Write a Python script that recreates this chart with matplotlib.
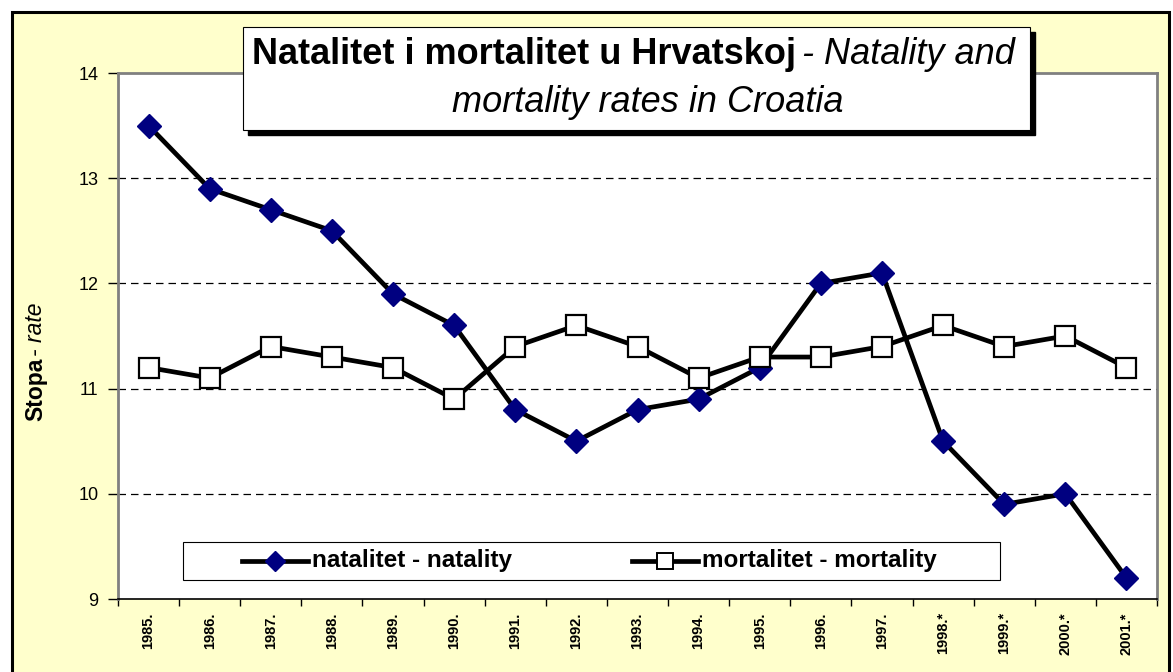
import matplotlib
matplotlib.use("Agg")
import matplotlib.pyplot as plt
from matplotlib.patches import Rectangle
from matplotlib.lines import Line2D

years = ["1985.", "1986.", "1987.", "1988.", "1989.", "1990.", "1991.", "1992.", "1993.",
         "1994.", "1995.", "1996.", "1997.", "1998.*", "1999.*", "2000.*", "2001.*"]
natality = [13.5, 12.9, 12.7, 12.5, 11.9, 11.6, 10.8, 10.5, 10.8, 10.9, 11.2, 12.0, 12.1,
            10.5, 9.9, 10.0, 9.2]
mortality = [11.2, 11.1, 11.4, 11.3, 11.2, 10.9, 11.4, 11.6, 11.4, 11.1, 11.3, 11.3, 11.4,
             11.6, 11.4, 11.5, 11.2]
yticks = [9, 10, 11, 12, 13, 14]

plt.rcParams['font.family'] = ['Liberation Sans', 'DejaVu Sans']

W, H = 1173, 672
fig = plt.figure(figsize=(W / 100, H / 100), dpi=100)
fig.patch.set_facecolor('white')

# outer yellow frame with black border
fig.patches.append(Rectangle((12 / W, -0.01), (1169 - 12) / W, (672 - 12) / H + 0.01,
                             transform=fig.transFigure, facecolor='#FFFFCC',
                             edgecolor='black', linewidth=2.2, zorder=-5))

ax = fig.add_axes([118 / W, (H - 599) / H, (1157 - 118) / W, (599 - 73) / H], zorder=1)
ax.set_facecolor('white')
x = list(range(len(years)))
ax.set_xlim(-0.5, len(years) - 0.5)
ax.set_ylim(9, 14)

for yv in yticks[1:-1]:
    ax.axhline(yv, color='black', linestyle=(0, (6, 4)), linewidth=0.9, zorder=1)

ax.plot(x, natality, color='black', linewidth=3.4, marker='D', markersize=12.5,
        markerfacecolor='#000080', markeredgecolor='#000080', zorder=3, clip_on=False)
ax.plot(x, mortality, color='black', linewidth=3.4, marker='s', markersize=14.5,
        markerfacecolor='white', markeredgecolor='black', markeredgewidth=1.6, zorder=4)

for s in ['top', 'right', 'left']:
    ax.spines[s].set_color('#808080')
    ax.spines[s].set_linewidth(2)
ax.spines['bottom'].set_color('black')
ax.spines['bottom'].set_linewidth(1.2)

ax.set_yticks(yticks)
ax.set_yticklabels([str(v) for v in yticks], fontsize=13)
ax.tick_params(axis='y', length=7, width=1, direction='out', color='black', pad=7)
ax.set_xticks([i - 0.5 for i in range(len(years) + 1)], minor=False)
ax.set_xticklabels([])
ax.tick_params(axis='x', which='major', length=5, width=1, direction='out')
ax.set_xticks(x, minor=True)
ax.set_xticklabels(years, minor=True, rotation=90, fontsize=10.5, fontweight='bold')
ax.tick_params(axis='x', which='minor', length=0, pad=9.5)

# y label: bold "Stopa" + italic "rate"
yl1 = fig.text(36 / W, (H - 421) / H, 'Stopa', rotation=90, ha='center', va='bottom',
               fontsize=16.5, fontweight='bold')
fig.canvas.draw()
b = yl1.get_window_extent()
fig.text(36 / W, (b.y1 + 2) / H, '- rate', rotation=90, ha='center', va='bottom',
         fontsize=16.5, style='italic')

# title box with shadow
fig.patches.append(Rectangle((248 / W, (H - 135) / H), (1035 - 248) / W, (135 - 32) / H,
                             transform=fig.transFigure, facecolor='black',
                             edgecolor='black', zorder=5))
fig.patches.append(Rectangle((243 / W, (H - 130) / H), (1030 - 243) / W, (130 - 27) / H,
                             transform=fig.transFigure, facecolor='white',
                             edgecolor='black', linewidth=0.8, zorder=6))
t1 = fig.text(252 / W, (H - 54) / H, 'Natalitet i mortalitet u Hrvatskoj', fontsize=26,
              fontweight='bold', ha='left', va='center', zorder=7)
fig.canvas.draw()
bb = t1.get_window_extent()
fig.text((bb.x1 + 6) / W, (H - 54) / H, '- Natality and', fontsize=26, style='italic',
         ha='left', va='center', zorder=7)
fig.text(648 / W, (H - 102) / H, 'mortality rates in Croatia', fontsize=26, style='italic',
         ha='center', va='center', zorder=7)

# legend box
fig.patches.append(Rectangle((183 / W, (H - 580) / H), (1000 - 183) / W, (580 - 542) / H,
                             transform=fig.transFigure, facecolor='white',
                             edgecolor='black', linewidth=0.8, zorder=6))
ly = (H - 561) / H
fig.lines.append(Line2D([242 / W, 308 / W], [ly, ly], transform=fig.transFigure,
                        color='black', linewidth=3.4, zorder=7))
fig.lines.append(Line2D([275 / W], [ly], transform=fig.transFigure, marker='D',
                        markersize=10.5, color='#000080', zorder=8))
fig.text(312 / W, ly, 'natalitet - natality', fontsize=17.5, fontweight='bold',
         ha='left', va='center', zorder=7)
fig.lines.append(Line2D([632 / W, 698 / W], [ly, ly], transform=fig.transFigure,
                        color='black', linewidth=3.4, zorder=7))
fig.lines.append(Line2D([665 / W], [ly], transform=fig.transFigure, marker='s',
                        markersize=11, markerfacecolor='white', markeredgecolor='black',
                        markeredgewidth=1.4, zorder=8))
fig.text(702 / W, ly, 'mortalitet - mortality', fontsize=17.5, fontweight='bold',
         ha='left', va='center', zorder=7)

fig.savefig('out.png', dpi=100)
